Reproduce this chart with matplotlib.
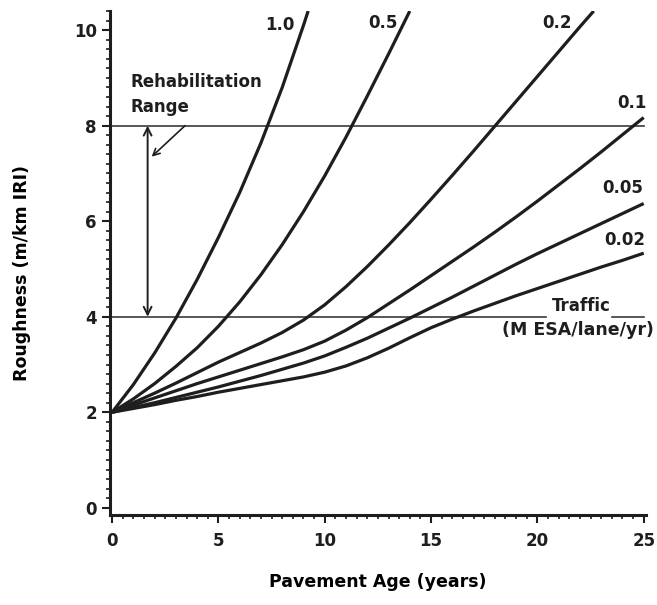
import numpy as np
import matplotlib
matplotlib.use("Agg")
import matplotlib.pyplot as plt
from matplotlib.ticker import MultipleLocator

plt.rcParams['font.family'] = ['DejaVu Sans']
plt.rcParams['font.weight'] = 'bold'
plt.rcParams['axes.labelweight'] = 'bold'

# roughness progression curves, one per traffic level (M ESA/lane/yr)
age_10 = [0, 1, 2, 3, 4, 5, 6, 7, 8, 9, 9.22]
iri_10 = [2, 2.58, 3.24, 3.97, 4.78, 5.66, 6.6, 7.64, 8.8, 10.1, 10.4]

age_05 = [0, 1, 2, 3, 4, 5, 6, 7, 8, 9, 10, 11, 12, 13, 14]
iri_05 = [2, 2.28, 2.6, 2.96, 3.35, 3.8, 4.31, 4.88, 5.51, 6.2, 6.95, 7.76, 8.62, 9.5, 10.4]

age_02 = [0, 1, 2, 3, 4, 5, 6, 7, 8, 9, 10, 11, 12, 13, 14, 15, 16, 17, 18, 19, 20, 21, 22, 22.65]
iri_02 = [2, 2.2, 2.4, 2.61, 2.83, 3.05, 3.25, 3.45, 3.67, 3.93, 4.25, 4.63, 5.05, 5.5,
          5.97, 6.46, 6.96, 7.47, 7.99, 8.51, 9.03, 9.55, 10.07, 10.4]

age_01 = list(range(0, 26))
iri_01 = [2, 2.15, 2.3, 2.45, 2.6, 2.74, 2.88, 3.02, 3.16, 3.31, 3.49, 3.72, 3.98, 4.27,
          4.56, 4.86, 5.16, 5.46, 5.77, 6.09, 6.42, 6.76, 7.1, 7.45, 7.81, 8.17]

age_005 = list(range(0, 26))
iri_005 = [2, 2.1, 2.2, 2.31, 2.42, 2.53, 2.65, 2.77, 2.9, 3.03, 3.18, 3.36, 3.55, 3.76,
           3.97, 4.19, 4.41, 4.64, 4.87, 5.1, 5.32, 5.53, 5.74, 5.95, 6.16, 6.37]

age_002 = list(range(0, 26))
iri_002 = [2, 2.08, 2.16, 2.25, 2.33, 2.42, 2.5, 2.58, 2.66, 2.74, 2.84, 2.97, 3.14, 3.34,
           3.56, 3.77, 3.95, 4.12, 4.28, 4.44, 4.59, 4.74, 4.89, 5.04, 5.18, 5.33]

traffic_labels = ['1.0', '0.5', '0.2', '0.1', '0.05', '0.02']
label_x = [8.6, 13.45, 21.6, 25.14, 24.95, 25.05]
label_y = [10.1, 10.15, 10.15, 8.47, 6.69, 5.6]

rehab_upper = 8
rehab_lower = 4

ink = '#1e1e1e'

fig = plt.figure(figsize=(6.57, 6.05), dpi=100)
ax = fig.add_axes([0.1674, 0.1488, 0.983 - 0.1674, 0.9818 - 0.1488])

curves = [(age_10, iri_10), (age_05, iri_05), (age_02, iri_02),
          (age_01, iri_01), (age_005, iri_005), (age_002, iri_002)]
for x, y in curves:
    ax.plot(x, y, color=ink, lw=2.3, solid_capstyle='butt', solid_joinstyle='round', zorder=3)

for txt, lx, ly in zip(traffic_labels, label_x, label_y):
    ax.text(lx, ly, txt, ha='right', va='center', fontsize=12, color=ink, clip_on=False)

# rehabilitation thresholds
ax.plot([0, 25], [rehab_upper, rehab_upper], color='#3a3a3a', lw=1.2, zorder=2)
ax.plot([0, 20.4], [rehab_lower, rehab_lower], color='#3a3a3a', lw=1.2, zorder=2)
ax.plot([23.5, 25], [rehab_lower, rehab_lower], color='#3a3a3a', lw=1.2, zorder=2)

ax.annotate('', xy=(1.67, rehab_upper), xytext=(1.67, rehab_lower),
            arrowprops=dict(arrowstyle='<->', color=ink, lw=1.4,
                            mutation_scale=14, shrinkA=0, shrinkB=0))
ax.annotate('', xy=(1.86, 7.35), xytext=(3.43, rehab_upper),
            arrowprops=dict(arrowstyle='->', color=ink, lw=1.2,
                            mutation_scale=12, shrinkA=0, shrinkB=0))
ax.text(0.85, 8.91, 'Rehabilitation', ha='left', va='center', fontsize=12, color=ink)
ax.text(0.85, 8.39, 'Range', ha='left', va='center', fontsize=12, color=ink)

ax.text(22.05, 4.22, 'Traffic', ha='center', va='center', fontsize=12, color=ink)
ax.text(25.5, 3.72, '(M ESA/lane/yr)', ha='right', va='center', fontsize=12.5,
        color=ink, clip_on=False)

ax.set_xlim(-0.1, 25.1)
ax.set_ylim(-0.15, 10.4)
ax.xaxis.set_major_locator(MultipleLocator(5))
ax.xaxis.set_minor_locator(MultipleLocator(0.5))
ax.yaxis.set_major_locator(MultipleLocator(2))
ax.yaxis.set_minor_locator(MultipleLocator(0.2))
ax.spines['top'].set_visible(False)
ax.spines['right'].set_visible(False)
for s in ['left', 'bottom']:
    ax.spines[s].set_linewidth(2.2)
    ax.spines[s].set_color(ink)
ax.tick_params(which='major', length=6, width=1.5, colors=ink, labelsize=12)
ax.tick_params(which='minor', length=3, width=1.2, colors=ink)
ax.tick_params(axis='x', pad=6)

ax.set_xlabel('Pavement Age (years)', fontsize=12.5, labelpad=17)
ax.set_ylabel('Roughness (m/km IRI)', fontsize=12.5, labelpad=22)
ax.yaxis.set_label_coords(-0.148, 0.48)

fig.savefig('out.png', dpi=100)
